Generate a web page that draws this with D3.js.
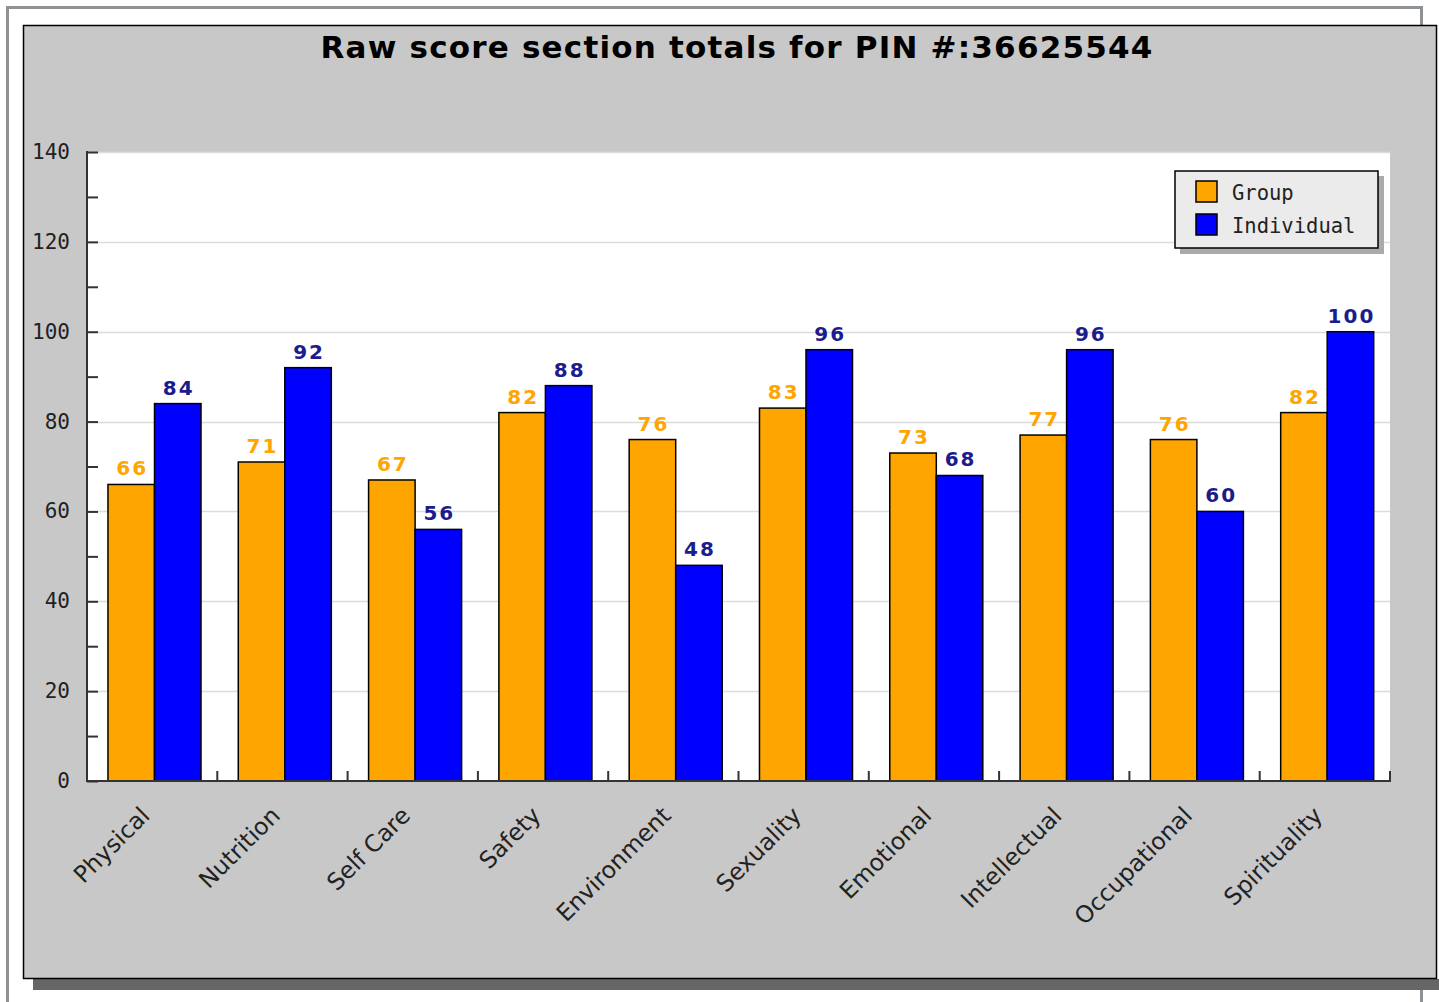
<!DOCTYPE html>
<html><head><meta charset="utf-8">
<script src="https://cdn.jsdelivr.net/npm/d3@7"></script>
<style>html,body{margin:0;padding:0;background:#fff;overflow:hidden}svg{display:block}</style>
</head><body>
<svg id="c" width="1439" height="1002"></svg>
<script>
const categories = ["Physical","Nutrition","Self Care","Safety","Environment","Sexuality","Emotional","Intellectual","Occupational","Spirituality"];
const seriesNames = ["Group","Individual"];
const groupValues = [66,71,67,82,76,83,73,77,76,82];
const individualValues = [84,92,56,88,48,96,68,96,60,100];
const yTicks = [0,20,40,60,80,100,120,140];
const titleText = "Raw score section totals for PIN #:36625544";

const colors = {Group:"#FFA500", Individual:"#0000FF"};
const labelColors = {Group:"#FFA500", Individual:"#1c1c8c"};

const svg = d3.select("#c");
// outer page frame
svg.append("rect").attr("x",7.5).attr("y",7.5).attr("width",1414).attr("height",1010)
  .attr("fill","none").attr("stroke","#8f9294").attr("stroke-width",3);
// panel shadow
svg.append("rect").attr("x",33).attr("y",979).attr("width",1420).attr("height",11).attr("fill","#666");
// panel
svg.append("rect").attr("x",23.5).attr("y",25.5).attr("width",1413).attr("height",953)
  .attr("fill","#c8c8c8").attr("stroke","#000").attr("stroke-width",1.5);

svg.append("text").attr("x",737).attr("y",58).attr("text-anchor","middle")
  .attr("font-family","DejaVu Sans").attr("font-weight","bold").attr("font-size",31)
  .attr("letter-spacing",1.2).attr("fill","#000").text(titleText);

const L=87, R=1390, T=152, B=781;
const y = d3.scaleLinear().domain([0,140]).range([B,T]);
const x0 = d3.scaleBand().domain(categories).range([L,R]).padding(0);
const bw = x0.bandwidth();
const x1 = d3.scaleBand().domain(seriesNames).range([0.161*bw, 0.875*bw]).padding(0);

svg.append("rect").attr("x",L).attr("y",T).attr("width",R-L).attr("height",B-T).attr("fill","#fff");

// gridlines
svg.append("g").selectAll("line").data(yTicks.filter(d=>d>0)).join("line")
  .attr("x1",L).attr("x2",R).attr("y1",d=>Math.round(y(d))+0.5).attr("y2",d=>Math.round(y(d))+0.5)
  .attr("stroke","#dcdcdc").attr("stroke-width",1.5);

// bars
const data = categories.map((c,i)=>({cat:c, vals:[{s:"Group",v:groupValues[i]},{s:"Individual",v:individualValues[i]}]}));
const g = svg.append("g").selectAll("g").data(data).join("g")
  .attr("transform",d=>`translate(${x0(d.cat)},0)`);
g.selectAll("rect").data(d=>d.vals).join("rect")
  .attr("x",d=>x1(d.s)).attr("y",d=>y(d.v)).attr("width",x1.bandwidth()).attr("height",d=>B-y(d.v))
  .attr("fill",d=>colors[d.s]).attr("stroke","#000").attr("stroke-width",1.5);
g.selectAll("text").data(d=>d.vals).join("text")
  .attr("x",d=>x1(d.s)+x1.bandwidth()/2+1).attr("y",d=>y(d.v)-9)
  .attr("text-anchor","middle").attr("font-family","DejaVu Sans").attr("font-weight","bold")
  .attr("font-size",20).attr("letter-spacing",2).attr("fill",d=>labelColors[d.s]).text(d=>d.v);

// y axis
const yAxis = d3.axisRight(y).tickValues(d3.range(0,141,10)).tickSize(11).tickFormat("");
const ya = svg.append("g").attr("transform",`translate(${L},0)`).call(yAxis);
ya.select(".domain").remove();
ya.selectAll("line").attr("stroke","#333").attr("stroke-width",2);
svg.append("line").attr("x1",L).attr("x2",L).attr("y1",T-1).attr("y2",B+1).attr("stroke","#333").attr("stroke-width",2);
svg.append("g").selectAll("text").data(yTicks).join("text")
  .attr("x",70).attr("y",d=>y(d)+7).attr("text-anchor","end")
  .attr("font-family","DejaVu Sans Mono").attr("font-size",21).attr("fill","#222").text(d=>d);

// x axis
svg.append("line").attr("x1",L-1).attr("x2",R+1).attr("y1",B).attr("y2",B).attr("stroke","#333").attr("stroke-width",2);
const bounds = categories.map(c=>x0(c)+bw);
svg.append("g").selectAll("line").data(bounds).join("line")
  .attr("x1",d=>d).attr("x2",d=>d).attr("y1",B).attr("y2",B-10).attr("stroke","#333").attr("stroke-width",2);
svg.append("g").selectAll("text").data(categories).join("text")
  .attr("transform",d=>`translate(${x0(d)+bw/2-1},${B+36}) rotate(-45)`)
  .attr("text-anchor","end").attr("font-family","DejaVu Sans").attr("font-size",23.5).attr("fill","#222").text(d=>d);

// legend
const lg = svg.append("g");
lg.append("rect").attr("x",1180).attr("y",176).attr("width",204).attr("height",78).attr("fill","#aaa");
lg.append("rect").attr("x",1175).attr("y",171).attr("width",203).attr("height",77).attr("fill","#ebebeb").attr("stroke","#000").attr("stroke-width",1.5);
seriesNames.forEach((s,i)=>{
  lg.append("rect").attr("x",1196).attr("y",181+i*33).attr("width",21).attr("height",21)
    .attr("fill",colors[s]).attr("stroke","#000").attr("stroke-width",1.5);
  lg.append("text").attr("x",1232).attr("y",200+i*33).attr("font-family","DejaVu Sans Mono")
    .attr("font-size",20.5).attr("fill","#222").text(s);
});
</script>
</body></html>
